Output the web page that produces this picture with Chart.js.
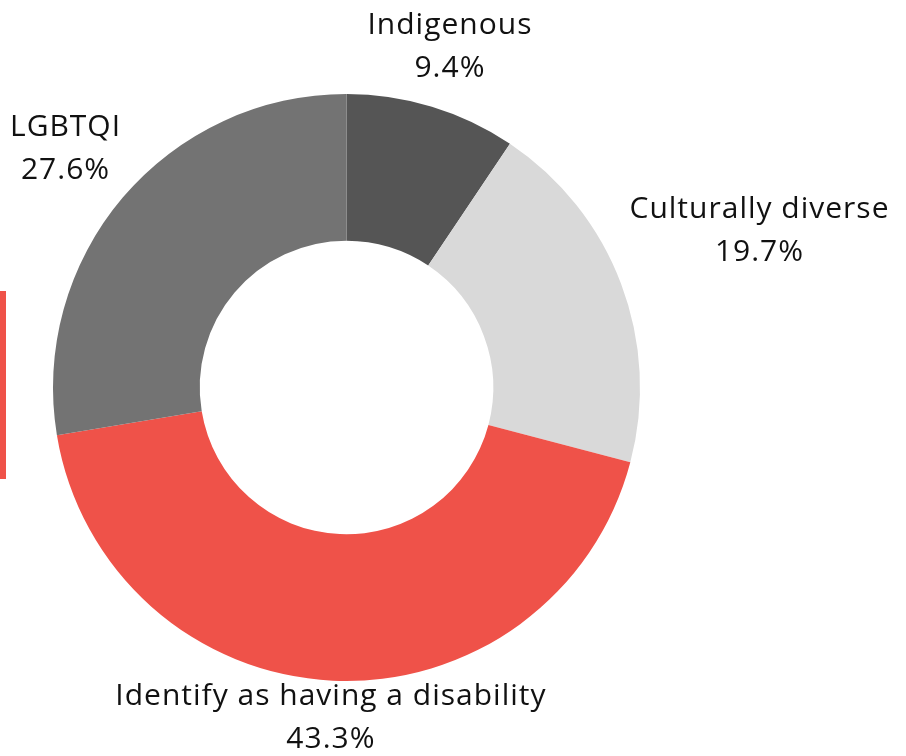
<!DOCTYPE html>
<html>
<head>
<meta charset="utf-8">
<script src="https://cdn.jsdelivr.net/npm/chart.js@4"></script>
<style>
  html, body { margin: 0; padding: 0; background: #ffffff; }
  #wrap { position: relative; width: 906px; height: 756px; }
  #accent { position: absolute; left: 0; top: 291px; width: 6px; height: 188px; background: #ef5249; }
</style>
</head>
<body>
<div id="wrap">
  <canvas id="c" width="906" height="756"></canvas>
  <div id="accent"></div>
</div>
<script>
const categories = ["Indigenous", "Culturally diverse", "Identify as having a disability", "LGBTQI"];
const shares = [9.4, 19.7, 43.3, 27.6];
const valueLabels = ["9.4%", "19.7%", "43.3%", "27.6%"];
const colors = ["#555555", "#d9d9d9", "#ef5249", "#737373"];

const labelPlugin = {
  id: 'outsideLabels',
  afterDatasetsDraw(chart, args, opts) {
    const ctx = chart.ctx;
    const meta = chart.getDatasetMeta(0);
    ctx.save();
    ctx.font = opts.font;
    ctx.fillStyle = opts.color;
    ctx.textAlign = 'center';
    ctx.textBaseline = 'middle';
    if ('letterSpacing' in ctx) ctx.letterSpacing = opts.letterSpacing;
    meta.data.forEach((arc, i) => {
      const p = arc.getProps(['x', 'y', 'startAngle', 'endAngle', 'outerRadius'], true);
      const mid = (p.startAngle + p.endAngle) / 2;
      const r = p.outerRadius + opts.extra[i];
      const cx = p.x + Math.cos(mid) * r;
      const cy = p.y + Math.sin(mid) * r;
      const lh = opts.lineHeight;
      ctx.fillText(categories[i], cx, cy - lh / 2);
      ctx.fillText(valueLabels[i], cx, cy + lh / 2);
    });
    ctx.restore();
  }
};

new Chart(document.getElementById('c'), {
  type: 'doughnut',
  data: {
    labels: categories,
    datasets: [{
      data: shares,
      backgroundColor: colors,
      borderWidth: 0
    }]
  },
  options: {
    responsive: false,
    animation: false,
    cutout: '50%',
    layout: { padding: { left: 53, right: 266, top: 94, bottom: 75 } },
    plugins: {
      legend: { display: false },
      tooltip: { enabled: false },
      outsideLabels: {
        font: '30px "Open Sans"',
        color: '#111111',
        letterSpacing: '1px',
        lineHeight: 43,
        extra: [62, 148, 37, 75]
      }
    }
  },
  plugins: [labelPlugin]
});
</script>
</body>
</html>
